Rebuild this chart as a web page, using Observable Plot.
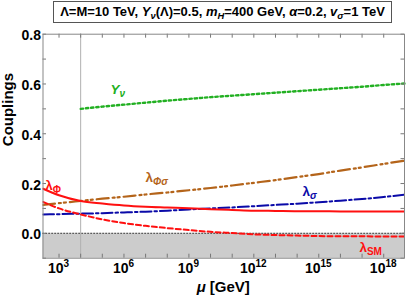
<!DOCTYPE html>
<html><head><meta charset="utf-8">
<script src="https://cdn.jsdelivr.net/npm/d3@7"></script>
<script src="https://cdn.jsdelivr.net/npm/@observablehq/plot@0.6"></script>
<style>
body{margin:0;background:#fff;font-family:"Liberation Sans",Arial,sans-serif;}
#wrap{position:relative;width:407px;height:301px;}
#title{position:absolute;left:53px;top:1px;width:339px;height:22px;box-sizing:border-box;border:1.5px solid #555;font-weight:bold;font-size:13px;text-align:center;line-height:19px;white-space:nowrap;background:#fff;}
#title sub{font-size:0.72em;vertical-align:-0.3em;line-height:0;}
</style></head><body>
<div id="wrap"><div id="chart"></div><div id="title">Λ=M=10 TeV, <i>Y</i><sub><i>ν</i></sub>(Λ)=0.5, <i>m</i><sub><i>H</i></sub>=400 GeV, <i>α</i>=0.2, <i>v</i><sub><i>σ</i></sub>=1 TeV</div></div>
<script>
// log10(mu/GeV) sample points
const muExp = [2.26, 3, 4, 5, 6, 7, 8, 9, 10, 11, 12, 13, 14, 15, 16, 17, 18, 18.96];
const lambdaPhi   = [0.179, 0.153, 0.130, 0.120, 0.112, 0.107, 0.104, 0.101, 0.097, 0.094, 0.091, 0.090, 0.089, 0.089, 0.088, 0.088, 0.088, 0.088];
const lambdaSM    = [0.126, 0.100, 0.076, 0.056, 0.041, 0.030, 0.021, 0.013, 0.006, 0.001, -0.004, -0.007, -0.009, -0.011, -0.012, -0.012, -0.013, -0.013];
const lambdaSigma = [0.076, 0.077, 0.079, 0.081, 0.084, 0.087, 0.091, 0.096, 0.100, 0.104, 0.109, 0.114, 0.119, 0.125, 0.131, 0.138, 0.146, 0.155];
const lambdaPhiSigma = [0.114, 0.121, 0.130, 0.139, 0.147, 0.156, 0.164, 0.173, 0.182, 0.192, 0.203, 0.214, 0.226, 0.238, 0.252, 0.265, 0.279, 0.292];
const yNuExp = [4, 5, 6, 7, 8, 9, 10, 11, 12, 13, 14, 15, 16, 17, 18, 18.96];
const yNu    = [0.500, 0.509, 0.517, 0.525, 0.533, 0.540, 0.547, 0.553, 0.559, 0.565, 0.571, 0.577, 0.583, 0.589, 0.596, 0.602];
const lambdaScale = 1e4; // Λ = 10 TeV
const xTickExps = [3, 6, 9, 12, 15, 18];
const yTickLabels = [0, 0.2, 0.4, 0.6, 0.8];
const xDomain = [10 ** 2.26, 10 ** 18.96];
const yDomain = [-0.1, 0.8];

const series = (exps, vals) => exps.map((e, i) => ({mu: 10 ** e, v: vals[i]}));
const minorX = d3.range(3, 19).map(e => 10 ** e);
const minorY = d3.range(-1, 9).map(k => k / 10);

const tickLenY = 0.016;              // y-units
const tickFacX = 10 ** (3.5 / 21.67); // x multiplicative

const plot = Plot.plot({
  width: 407, height: 301,
  marginLeft: 42.5, marginRight: 3, marginTop: 33.7, marginBottom: 43.3,
  x: {type: "log", domain: xDomain, axis: null},
  y: {domain: yDomain, axis: null},
  style: {fontFamily: "Liberation Sans, Arial, sans-serif", background: "white"},
  marks: [
    Plot.areaY(xDomain, {x: d => d, y1: yDomain[0], y2: 0, fill: "#cccccc"}),
    Plot.ruleY([0], {stroke: "black", strokeWidth: 1, strokeDasharray: "1.2,1.8"}),
    Plot.ruleX([lambdaScale], {stroke: "#b0b0b0", strokeWidth: 1}),
    Plot.line(series(yNuExp, yNu), {x: "mu", y: "v", stroke: "#22b022", strokeWidth: 2.4, strokeDasharray: "2.4,2.8", curve: "monotone-x"}),
    Plot.line(series(muExp, lambdaPhiSigma), {x: "mu", y: "v", stroke: "#b4641a", strokeWidth: 2.2, strokeDasharray: "12,4,2,3,2,4", curve: "monotone-x", clip: true}),
    Plot.line(series(muExp, lambdaSigma), {x: "mu", y: "v", stroke: "#0a0aa8", strokeWidth: 2, strokeDasharray: "11,3,2.5,3", curve: "monotone-x", clip: true}),
    Plot.line(series(muExp, lambdaSM), {x: "mu", y: "v", stroke: "#ff1010", strokeWidth: 2, strokeDasharray: "5,3", curve: "monotone-x", clip: true}),
    Plot.line(series(muExp, lambdaPhi), {x: "mu", y: "v", stroke: "#ff1010", strokeWidth: 2, curve: "monotone-x", clip: true}),
    // inward ticks
    Plot.ruleX(minorX, {x: d => d, y1: yDomain[0], y2: yDomain[0] + tickLenY, stroke: "#777"}),
    Plot.ruleX(minorX, {x: d => d, y1: yDomain[1], y2: yDomain[1] - tickLenY, stroke: "#777"}),
    Plot.ruleY(minorY, {y: d => d, x1: xDomain[0], x2: xDomain[0] * tickFacX, stroke: "#777"}),
    Plot.ruleY(minorY, {y: d => d, x1: xDomain[1], x2: xDomain[1] / tickFacX, stroke: "#777"}),
    Plot.frame({stroke: "#888", strokeWidth: 1}),
    Plot.text(yTickLabels, {x: xDomain[0], y: d => d, text: d => d.toFixed(1), textAnchor: "end", dx: -2, dy: 1.5, fontSize: 14, fontWeight: "bold", fill: "black"}),
    Plot.text(["Couplings"], {frameAnchor: "left", text: d => d, rotate: -90, dx: -35, fontSize: 15, fontWeight: "bold", fill: "black"})
  ]
});
document.getElementById("chart").append(plot);

const svg = d3.select(plot);
const sx = v => plot.scale("x").apply(v);
const sy = v => plot.scale("y").apply(v);
const bottom = sy(yDomain[0]);

// x tick labels 10^n
xTickExps.forEach(e => {
  const t = svg.append("text").attr("x", sx(10 ** e)).attr("y", bottom + 15.5)
    .attr("text-anchor", "middle").attr("font-size", 14).attr("font-weight", "bold")
    .attr("font-family", "Liberation Sans, Arial, sans-serif").attr("fill", "black");
  t.append("tspan").text("10");
  t.append("tspan").attr("dy", -6.5).attr("font-size", 10).text(String(e));
});

// x axis label
{
  const t = svg.append("text").attr("x", (sx(xDomain[0]) + sx(xDomain[1])) / 2).attr("y", bottom + 34)
    .attr("text-anchor", "middle").attr("font-size", 15).attr("font-weight", "bold")
    .attr("font-family", "Liberation Sans, Arial, sans-serif").attr("fill", "black");
  t.append("tspan").attr("font-style", "italic").text("μ");
  t.append("tspan").text(" [GeV]");
}

// curve labels
const curveLabels = [
  {main: "λ", sub: "Φ", mu: 10 ** 2.75, y: 0.174, color: "#ff1010", italicMain: false},
  {main: "λ", sub: "Φσ", mu: 10 ** 7.53, y: 0.206, color: "#b4641a", italicMain: false},
  {main: "λ", sub: "σ", mu: 10 ** 14.6, y: 0.1495, color: "#0a0aa8", italicMain: false},
  {main: "λ", sub: "SM", mu: 10 ** 17.42, y: -0.0756, color: "#ff1010", italicMain: false},
  {main: "Y", sub: "ν", mu: 10 ** 5.74, y: 0.5596, color: "#22b022", italicMain: true}
];
curveLabels.forEach(l => {
  const t = svg.append("text").attr("x", sx(l.mu)).attr("y", sy(l.y))
    .attr("font-size", 13.5).attr("font-weight", "bold").attr("fill", l.color)
    .attr("font-family", "Liberation Sans, Arial, sans-serif");
  t.append("tspan").attr("font-style", l.italicMain ? "italic" : "normal").text(l.main);
  t.append("tspan").attr("dy", 3).attr("font-size", 10).attr("font-style", /σ|ν/.test(l.sub) ? "italic" : "normal").text(l.sub);
});
</script>
</body></html>
